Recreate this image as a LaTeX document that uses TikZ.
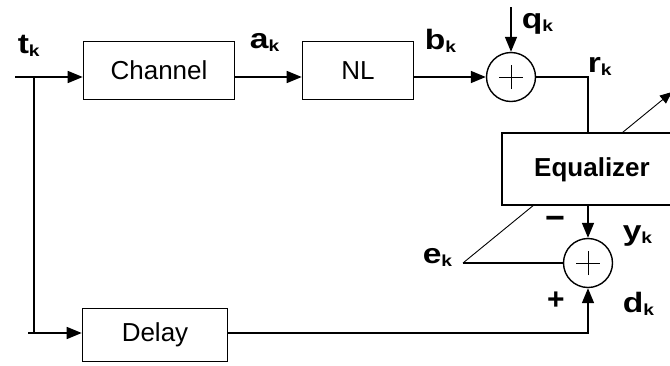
\documentclass[tikz,border=0pt]{standalone}
\usepackage{fontspec}
\setmainfont{Liberation Sans}
\usetikzlibrary{arrows.meta}
\newcommand{\sig}[2]{\scalebox{1.2}[1]{\textbf{#1}\raisebox{-3pt}{\fontsize{16}{16}\selectfont\bfseries #2}}}

\begin{document}
\begin{tikzpicture}[x=1pt, y=-1pt, line width=1.6pt,
    blk/.style={draw, fill=white, inner sep=0pt, font=\fontsize{26}{26}\selectfont},
    sum/.style={circle, draw, line width=1.4pt, minimum size=49pt, inner sep=0pt,
      path picture={\draw[line width=1pt] (path picture bounding box.center) ++(-12pt,0) -- ++(24pt,0)
        (path picture bounding box.center) ++(0,-12pt) -- ++(0,24pt);}},
    lbl/.style={inner sep=0pt, anchor=base west, font=\fontsize{28}{28}\selectfont},
    arr/.style={-{Triangle[length=15pt,width=12pt]}}]
  \useasboundingbox (0,0) rectangle (670,365);
  \clip (0,0) rectangle (670,365);
  %% Blocks
  \node[blk, minimum width=151pt, minimum height=58pt] (chan) at (159,70.5) {Channel};
  \node[blk, minimum width=111pt, minimum height=58pt] (nl) at (358,70.5) {NL};
  \node[blk, minimum width=145pt, minimum height=53pt] (dly) at (155,335) {Delay};
  \node[sum] (s1) at (511,77) {};
  \node[sum] (s2) at (588,263) {};
  %% Input and branch
  \coordinate (tin) at (15,77);
  \coordinate (br) at (34,77);
  \coordinate (brlow) at (28,333);
  \draw[arr] (tin) -- (tin -| chan.west);
  \draw (br) -- (br |- brlow);
  \draw[arr] (brlow) -- (brlow -| dly.west);
  \draw[arr] (chan.east |- tin) -- (tin -| nl.west);
  \draw[arr] (nl.east |- tin) -- (s1.west);
  %% Noise
  \coordinate (qin) at (511,7);
  \draw[arr] (qin) -- (s1.north);
  %% Adaptation path (behind the equalizer)
  \coordinate (ek) at (463,263);
  \coordinate (adp) at (672,92);
  \draw[line width=0.9pt, -{Triangle[length=12pt,width=10pt]}] (ek) -- (adp);
  \node[blk, minimum width=188pt, minimum height=72pt] (eq) at (596,169) {};
  \node[inner sep=0pt, font=\fontsize{26}{26}\selectfont\bfseries] (eqt) at (592,170) {Equalizer};
  %% Equalizer in and out
  \coordinate (rtap) at (588,77);
  \coordinate (dtap) at (588,333);
  \draw (s1.east) -- (rtap) -- (rtap |- eq.north);
  \draw[arr] (s2.north |- eq.south) -- (s2.north);
  \draw (s2.west) -- (ek);
  \draw[arr] (dly.east |- brlow) -- (dtap) -- (s2.south);
  %% Labels
  \node[lbl] (tk) at (17,53) {\sig{t}{k}};
  \node[lbl] (ak) at (249,48) {\sig{a}{k}};
  \node[lbl] (bk) at (424,49) {\sig{b}{k}};
  \node[lbl] (qk) at (521,28) {\sig{q}{k}};
  \node[lbl] (rk) at (587,72) {\sig{r}{k}};
  \node[lbl] (yk) at (622,240) {\sig{y}{k}};
  \node[lbl] (ekl) at (422,263) {\sig{e}{k}};
  \node[lbl] (dk) at (622,312) {\sig{d}{k}};
  \node[inner sep=0pt, font=\fontsize{34}{34}\selectfont\bfseries] (mn) at (555,223) {−};
  \node[inner sep=0pt, font=\fontsize{30}{30}\selectfont\bfseries] (pl) at (556,301) {+};
\end{tikzpicture}
\end{document}
